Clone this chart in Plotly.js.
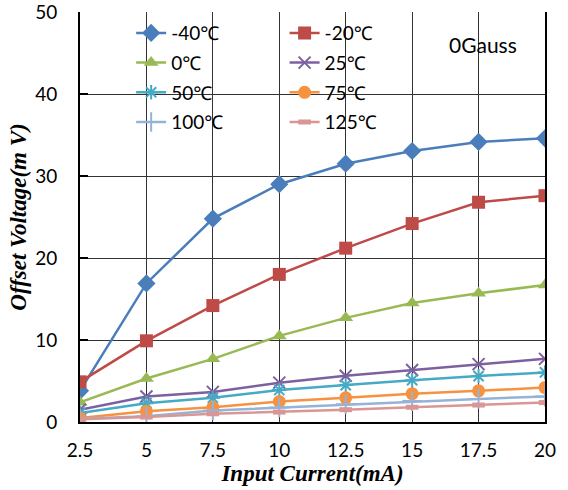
<!DOCTYPE html>
<html>
<head>
<meta charset="utf-8">
<script src="https://cdn.plot.ly/plotly-3.0.1.min.js"></script>
<style>html,body{margin:0;padding:0;background:#fff;}#chart{width:568px;height:490px;}</style>
</head>
<body>
<div id="chart"></div>
<script>
const current = [2.5, 5, 7.5, 10, 12.5, 15, 17.5, 20];
const tempLabels = ['-40℃', '-20℃', '0℃', '25℃', '50℃', '75℃', '100℃', '125℃'];
const vM40  = [3.8, 16.9, 24.8, 29.0, 31.5, 33.05, 34.15, 34.6];
const vM20  = [4.9, 9.9, 14.2, 18.0, 21.2, 24.2, 26.8, 27.6];
const v0    = [2.4, 5.3, 7.7, 10.5, 12.7, 14.5, 15.7, 16.7];
const v25   = [1.5, 3.1, 3.67, 4.8, 5.65, 6.35, 7.06, 7.7];
const v50   = [1.1, 2.3, 2.95, 3.9, 4.5, 5.1, 5.6, 6.05];
const v75   = [0.5, 1.3, 1.8, 2.5, 2.95, 3.45, 3.8, 4.2];
const v100  = [0.4, 0.7, 1.4, 1.76, 2.17, 2.55, 2.82, 3.1];
const v125  = [0.33, 0.6, 1.0, 1.21, 1.5, 1.8, 2.07, 2.37];

const series = [vM40, vM20, v0, v25, v50, v75, v100, v125];
const lineColors = ['#4A7EBB', '#BE4B48', '#98B954', '#7D60A0', '#46AAC5', '#F69240', '#95B3D7', '#D99694'];
const markers = [
  {symbol: 'diamond', size: 14},
  {symbol: 'square', size: 13},
  {symbol: 'triangle-up', size: 13},
  {symbol: 'x-thin-open', size: 12, lw: 2},
  {symbol: 'asterisk-open', size: 12, lw: 2},
  {symbol: 'circle', size: 13},
  {symbol: 'cross-thin-open', size: 14, lw: 2},
  {symbol: 'line-ew-open', size: 9, lw: 5}
];

const traces = series.map((vals, i) => {
  const m = markers[i];
  const marker = {symbol: m.symbol, size: m.size, color: lineColors[i]};
  if (m.lw) marker.line = {color: lineColors[i], width: m.lw};
  return {
    x: current, y: vals, type: 'scatter', mode: 'lines+markers',
    name: tempLabels[i],
    line: {color: lineColors[i], width: 2.5},
    marker: marker,
    legend: (i % 2 === 0) ? 'legend' : 'legend2',
    legendgroup: 'g' + i
  };
});

const baseFont = 'Lato, "Noto Sans", sans-serif';
const legFont = {family: baseFont, size: 19, color: '#000'};
const titleFont = {family: '"Liberation Serif", serif', size: 23, color: '#000', weight: 'bold', style: 'italic'};

const layout = {
  width: 568, height: 490,
  margin: {l: 80, r: 23, t: 12, b: 68},
  paper_bgcolor: '#fff', plot_bgcolor: '#fff',
  showlegend: true,
  xaxis: {
    range: [2.5, 20], tickvals: current, ticktext: current.map(String),
    showgrid: true, gridcolor: '#333', gridwidth: 1,
    showline: true, linecolor: '#000', linewidth: 2,
    ticks: '', zeroline: false,
    ticklabelstandoff: 10, ticklabeloverflow: 'allow',
    tickfont: {family: baseFont, size: 19, color: '#000'},
    title: {text: 'Input Current(mA)', font: titleFont, standoff: 2}
  },
  yaxis: {
    range: [0, 50], dtick: 10,
    showgrid: true, gridcolor: '#333', gridwidth: 1,
    showline: true, linecolor: '#000', linewidth: 2, mirror: true,
    ticks: 'inside', ticklen: 8, tickwidth: 1.5, tickcolor: '#000',
    zeroline: false,
    ticklabelstandoff: 17, ticklabeloverflow: 'allow',
    tickfont: {family: baseFont, size: 19, color: '#000'},
    title: {text: 'Offset Voltage(m V)', font: titleFont, standoff: 2}
  },
  legend: {
    x: 0.11, y: 0.995, xanchor: 'left', yanchor: 'top',
    bgcolor: 'rgba(0,0,0,0)', font: legFont,
    traceorder: 'grouped', tracegroupgap: 2
  },
  legend2: {
    x: 0.44, y: 0.995, xanchor: 'left', yanchor: 'top',
    bgcolor: 'rgba(0,0,0,0)', font: legFont,
    traceorder: 'grouped', tracegroupgap: 2
  },
  shapes: [
    {type: 'rect', xref: 'paper', yref: 'paper', x0: 0.032, x1: 0.671, y0: 0.70, y1: 0.985,
     fillcolor: '#fff', line: {width: 0}, layer: 'between'},
    {type: 'rect', xref: 'paper', yref: 'paper', x0: 0.692, x1: 0.997, y0: 0.859, y1: 0.971,
     fillcolor: '#fff', line: {width: 0}, layer: 'between'}
  ],
  annotations: [
    {text: '0Gauss', xref: 'paper', yref: 'paper', x: 0.867, y: 0.92, xanchor: 'center', yanchor: 'middle',
     showarrow: false, font: {family: baseFont, size: 21, color: '#000'}}
  ]
};

Plotly.newPlot('chart', traces, layout, {displayModeBar: false, staticPlot: true});
</script>
</body>
</html>
